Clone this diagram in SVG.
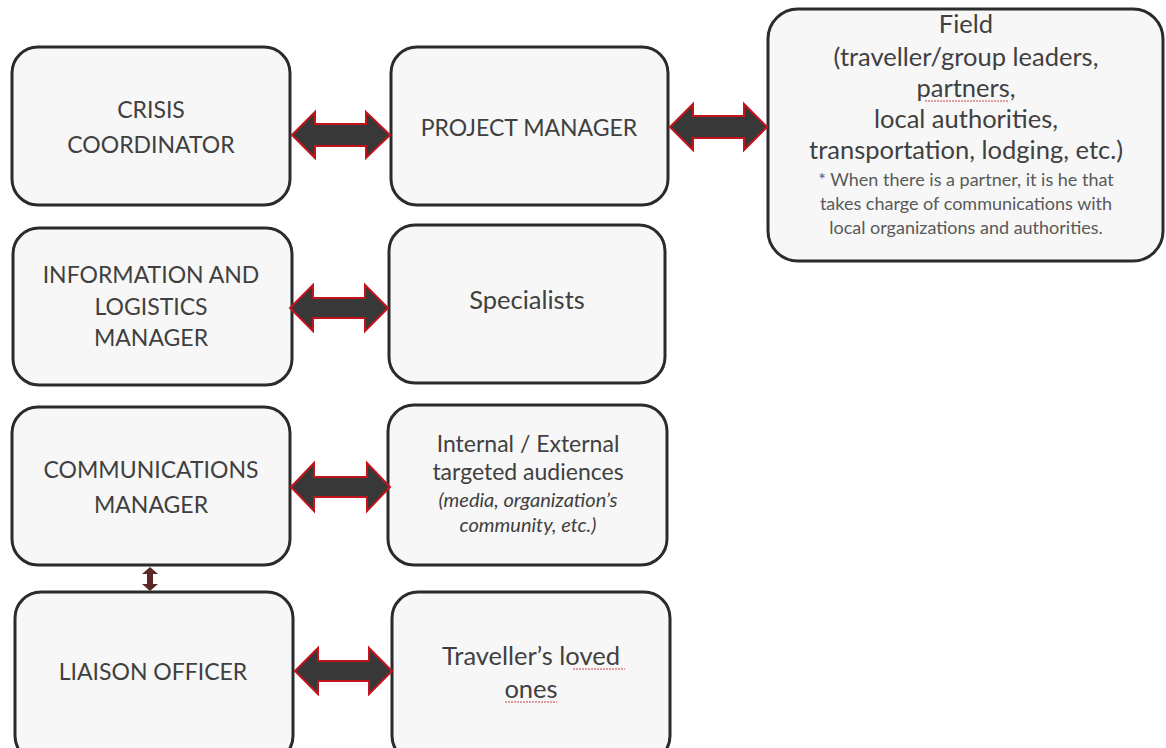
<svg xmlns="http://www.w3.org/2000/svg" width="1166" height="748" viewBox="0 0 1166 748">
<style>
.box{fill:#f7f7f7;stroke:#2b2b2b;stroke-width:3}
.t{font-family:Lato,"Open Sans","Liberation Sans",sans-serif;fill:#404040;text-anchor:middle}
.cap{font-size:23px}
.big{font-size:25.5px}
.mid{font-size:23px}
.it{font-size:20px;font-style:italic}
.sm{font-size:18px;fill:#595959}
.arr{fill:#383838;stroke:#c3141b;stroke-width:2;stroke-linejoin:miter}
.squig{stroke:#d04040;stroke-width:1;stroke-dasharray:2 1;fill:none}
</style>
<rect width="1166" height="748" fill="#ffffff"/>
<g id="crisis-coordinator">
<rect class="box" x="12" y="47" width="278" height="158" rx="26"/>
<text class="t cap" x="151" y="118">CRISIS</text>
<text class="t cap" x="151" y="153">COORDINATOR</text>
</g>
<g id="project-manager">
<rect class="box" x="391" y="47" width="277" height="158" rx="26"/>
<text class="t cap" x="529" y="136">PROJECT MANAGER</text>
</g>
<g id="field">
<rect class="box" x="768" y="9" width="395" height="252" rx="30"/>
<text class="t big" x="966" y="33">Field</text>
<text class="t big" x="966" y="66">(traveller/group leaders,</text>
<text class="t big" x="966" y="97">partners,</text>
<text class="t big" x="966" y="128">local authorities,</text>
<text class="t big" x="966" y="159">transportation, lodging, etc.)</text>
<text class="t sm" x="966" y="186">* When there is a partner, it is he that</text>
<text class="t sm" x="966" y="210">takes charge of communications with</text>
<text class="t sm" x="966" y="234">local organizations and authorities.</text>
<path class="squig" d="M925 101 H1008"/>
</g>
<g id="information-logistics-manager">
<rect class="box" x="13" y="228" width="279" height="157" rx="26"/>
<text class="t cap" x="151" y="283">INFORMATION AND</text>
<text class="t cap" x="151" y="315">LOGISTICS</text>
<text class="t cap" x="151" y="346">MANAGER</text>
</g>
<g id="specialists">
<rect class="box" x="389" y="225" width="276" height="158" rx="26"/>
<text class="t big" x="527" y="309">Specialists</text>
</g>
<g id="communications-manager">
<rect class="box" x="12" y="407" width="278" height="158" rx="26"/>
<text class="t cap" x="151" y="478">COMMUNICATIONS</text>
<text class="t cap" x="151" y="513">MANAGER</text>
</g>
<g id="targeted-audiences">
<rect class="box" x="388" y="405" width="279" height="160" rx="26"/>
<text class="t mid" x="528" y="452">Internal / External</text>
<text class="t mid" x="528" y="480">targeted audiences</text>
<text class="t it" x="528" y="507">(media, organization’s</text>
<text class="t it" x="528" y="532">community, etc.)</text>
</g>
<g id="liaison-officer">
<rect class="box" x="15" y="592" width="278" height="170" rx="26"/>
<text class="t cap" x="153" y="680">LIAISON OFFICER</text>
</g>
<g id="loved-ones">
<rect class="box" x="392" y="592" width="278" height="170" rx="26"/>
<text class="t big" x="531" y="665">Traveller’s loved</text>
<text class="t big" x="531" y="698">ones</text>
<path class="squig" d="M573 669 H625"/>
<path class="squig" d="M505 702 H557"/>
</g>
<g id="connectors">
<polygon class="arr" points="292,135 315,112 315,124 366,124 366,112 390,135 366,158 366,146 315,146 315,158"/>
<polygon class="arr" points="670,127 693,104 693,116 744,116 744,104 767,127 744,150 744,138 693,138 693,150"/>
<polygon class="arr" points="290,308 313,285 313,298 365,298 365,285 388,308 365,331 365,318 313,318 313,331"/>
<polygon class="arr" points="291,487 314,463 314,477 367,477 367,463 390,487 367,511 367,497 314,497 314,511"/>
<polygon class="arr" points="295,671 318,648 318,661 369,661 369,648 392,671 369,694 369,681 318,681 318,694"/>
<polygon points="150,567 158,574 153,574 153,584 158,584 150,591 142,584 147,584 147,574 142,574" fill="#5a2828"/>
</g>
</svg>
